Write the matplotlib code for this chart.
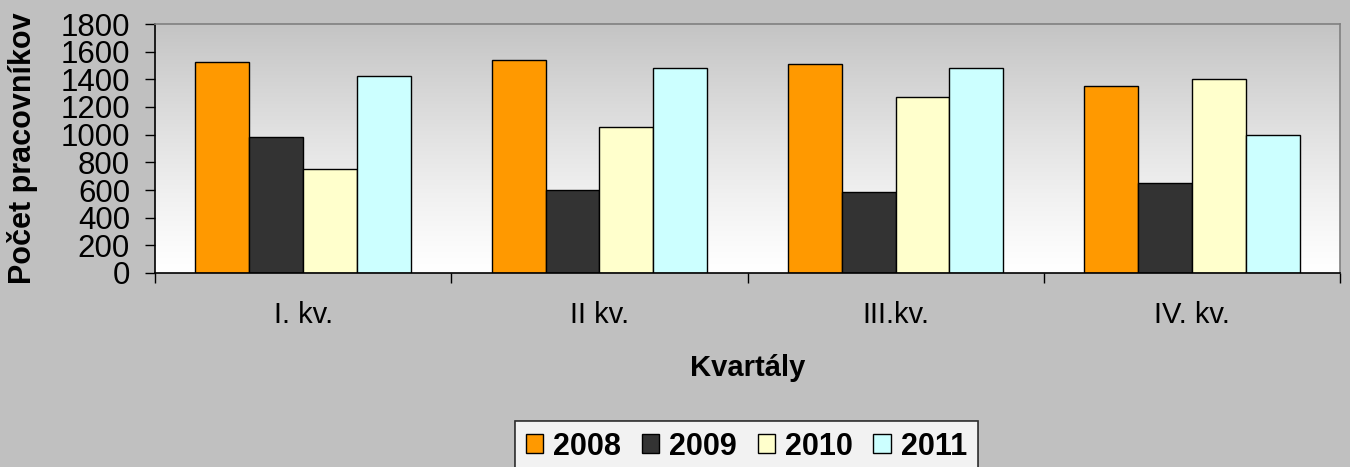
import numpy as np
import matplotlib
matplotlib.use("Agg")
import matplotlib.pyplot as plt

plt.rcParams["font.family"] = ["Liberation Sans", "DejaVu Sans"]

# --- data ---
quarters = ["I. kv.", "II kv.", "III.kv.", "IV. kv."]
years = ["2008", "2009", "2010", "2011"]
v2008 = [1525, 1538, 1509, 1354]
v2009 = [985, 600, 583, 653]
v2010 = [750, 1056, 1273, 1400]
v2011 = [1424, 1480, 1480, 998]
series = [v2008, v2009, v2010, v2011]
colors = ["#ff9900", "#333333", "#ffffcc", "#ccffff"]
yticks = [0, 200, 400, 600, 800, 1000, 1200, 1400, 1600, 1800]

BG = "#c0c0c0"

fig = plt.figure(figsize=(13.5, 4.67), dpi=100, facecolor=BG)
ax = fig.add_axes([155 / 1350, 1 - 273 / 467, 1185 / 1350, 249 / 467])

# plot-area gradient: gray at top fading to white at the bottom
t = np.linspace(0, 1, 256).reshape(-1, 1)  # 0 = bottom, 1 = top
level = (255 - (255 - 196) * t ** 1.2) / 255.0
grad = np.dstack([level, level, level])
ax.imshow(grad, extent=[0, 1, 0, 1], transform=ax.transAxes, origin="lower",
          aspect="auto", zorder=0, interpolation="bilinear")

x = np.arange(len(quarters))
w = 1 / 5.5  # Excel gap width 150%
for j, (vals, c, lab) in enumerate(zip(series, colors, years)):
    ax.bar(x + (j - 1.5) * w, vals, width=w, color=c, edgecolor="black",
           linewidth=1.0, label=lab, zorder=2)

ax.set_xlim(-0.5, len(quarters) - 0.5)
ax.set_ylim(0, 1800)

ax.set_yticks(yticks)
ax.tick_params(axis="y", direction="out", length=7, width=1, pad=11,
               labelsize=22.5, colors="black")

# boundary ticks (major) and centred labels (minor)
ax.set_xticks(np.arange(-0.5, len(quarters), 1.0))
ax.set_xticklabels([])
ax.set_xticks(x, minor=True)
ax.set_xticklabels(quarters, minor=True)
ax.tick_params(axis="x", which="major", direction="out", length=7, width=1)
ax.tick_params(axis="x", which="minor", length=0, pad=20, labelsize=21)

for side in ("left", "bottom"):
    ax.spines[side].set_color("black")
    ax.spines[side].set_linewidth(1.2)
for side in ("top", "right"):
    ax.spines[side].set_color("#808080")
    ax.spines[side].set_linewidth(1.2)

ax.set_ylabel("Počet pracovníkov", fontsize=22, fontweight="bold")
ax.yaxis.set_label_coords(-0.0987, 0.5)
xl = ax.set_xlabel("Kvartály", fontsize=21, fontweight="bold")
xl.set_va("center")
ax.xaxis.set_label_coords(0.5, -0.3815)

leg = fig.legend(loc="upper center", bbox_to_anchor=(746.5 / 1350, 1 - 421 / 467),
                 ncol=4, frameon=True, fancybox=False,
                 prop={"weight": "bold", "size": 22},
                 handlelength=0.57, handleheight=0.57, handletextpad=0.33,
                 columnspacing=0.67, borderpad=0.35, borderaxespad=0)
leg.get_frame().set_edgecolor("black")
leg.get_frame().set_linewidth(1.2)
leg.get_frame().set_facecolor("white")

fig.savefig("out.png", dpi=100, facecolor=BG)
